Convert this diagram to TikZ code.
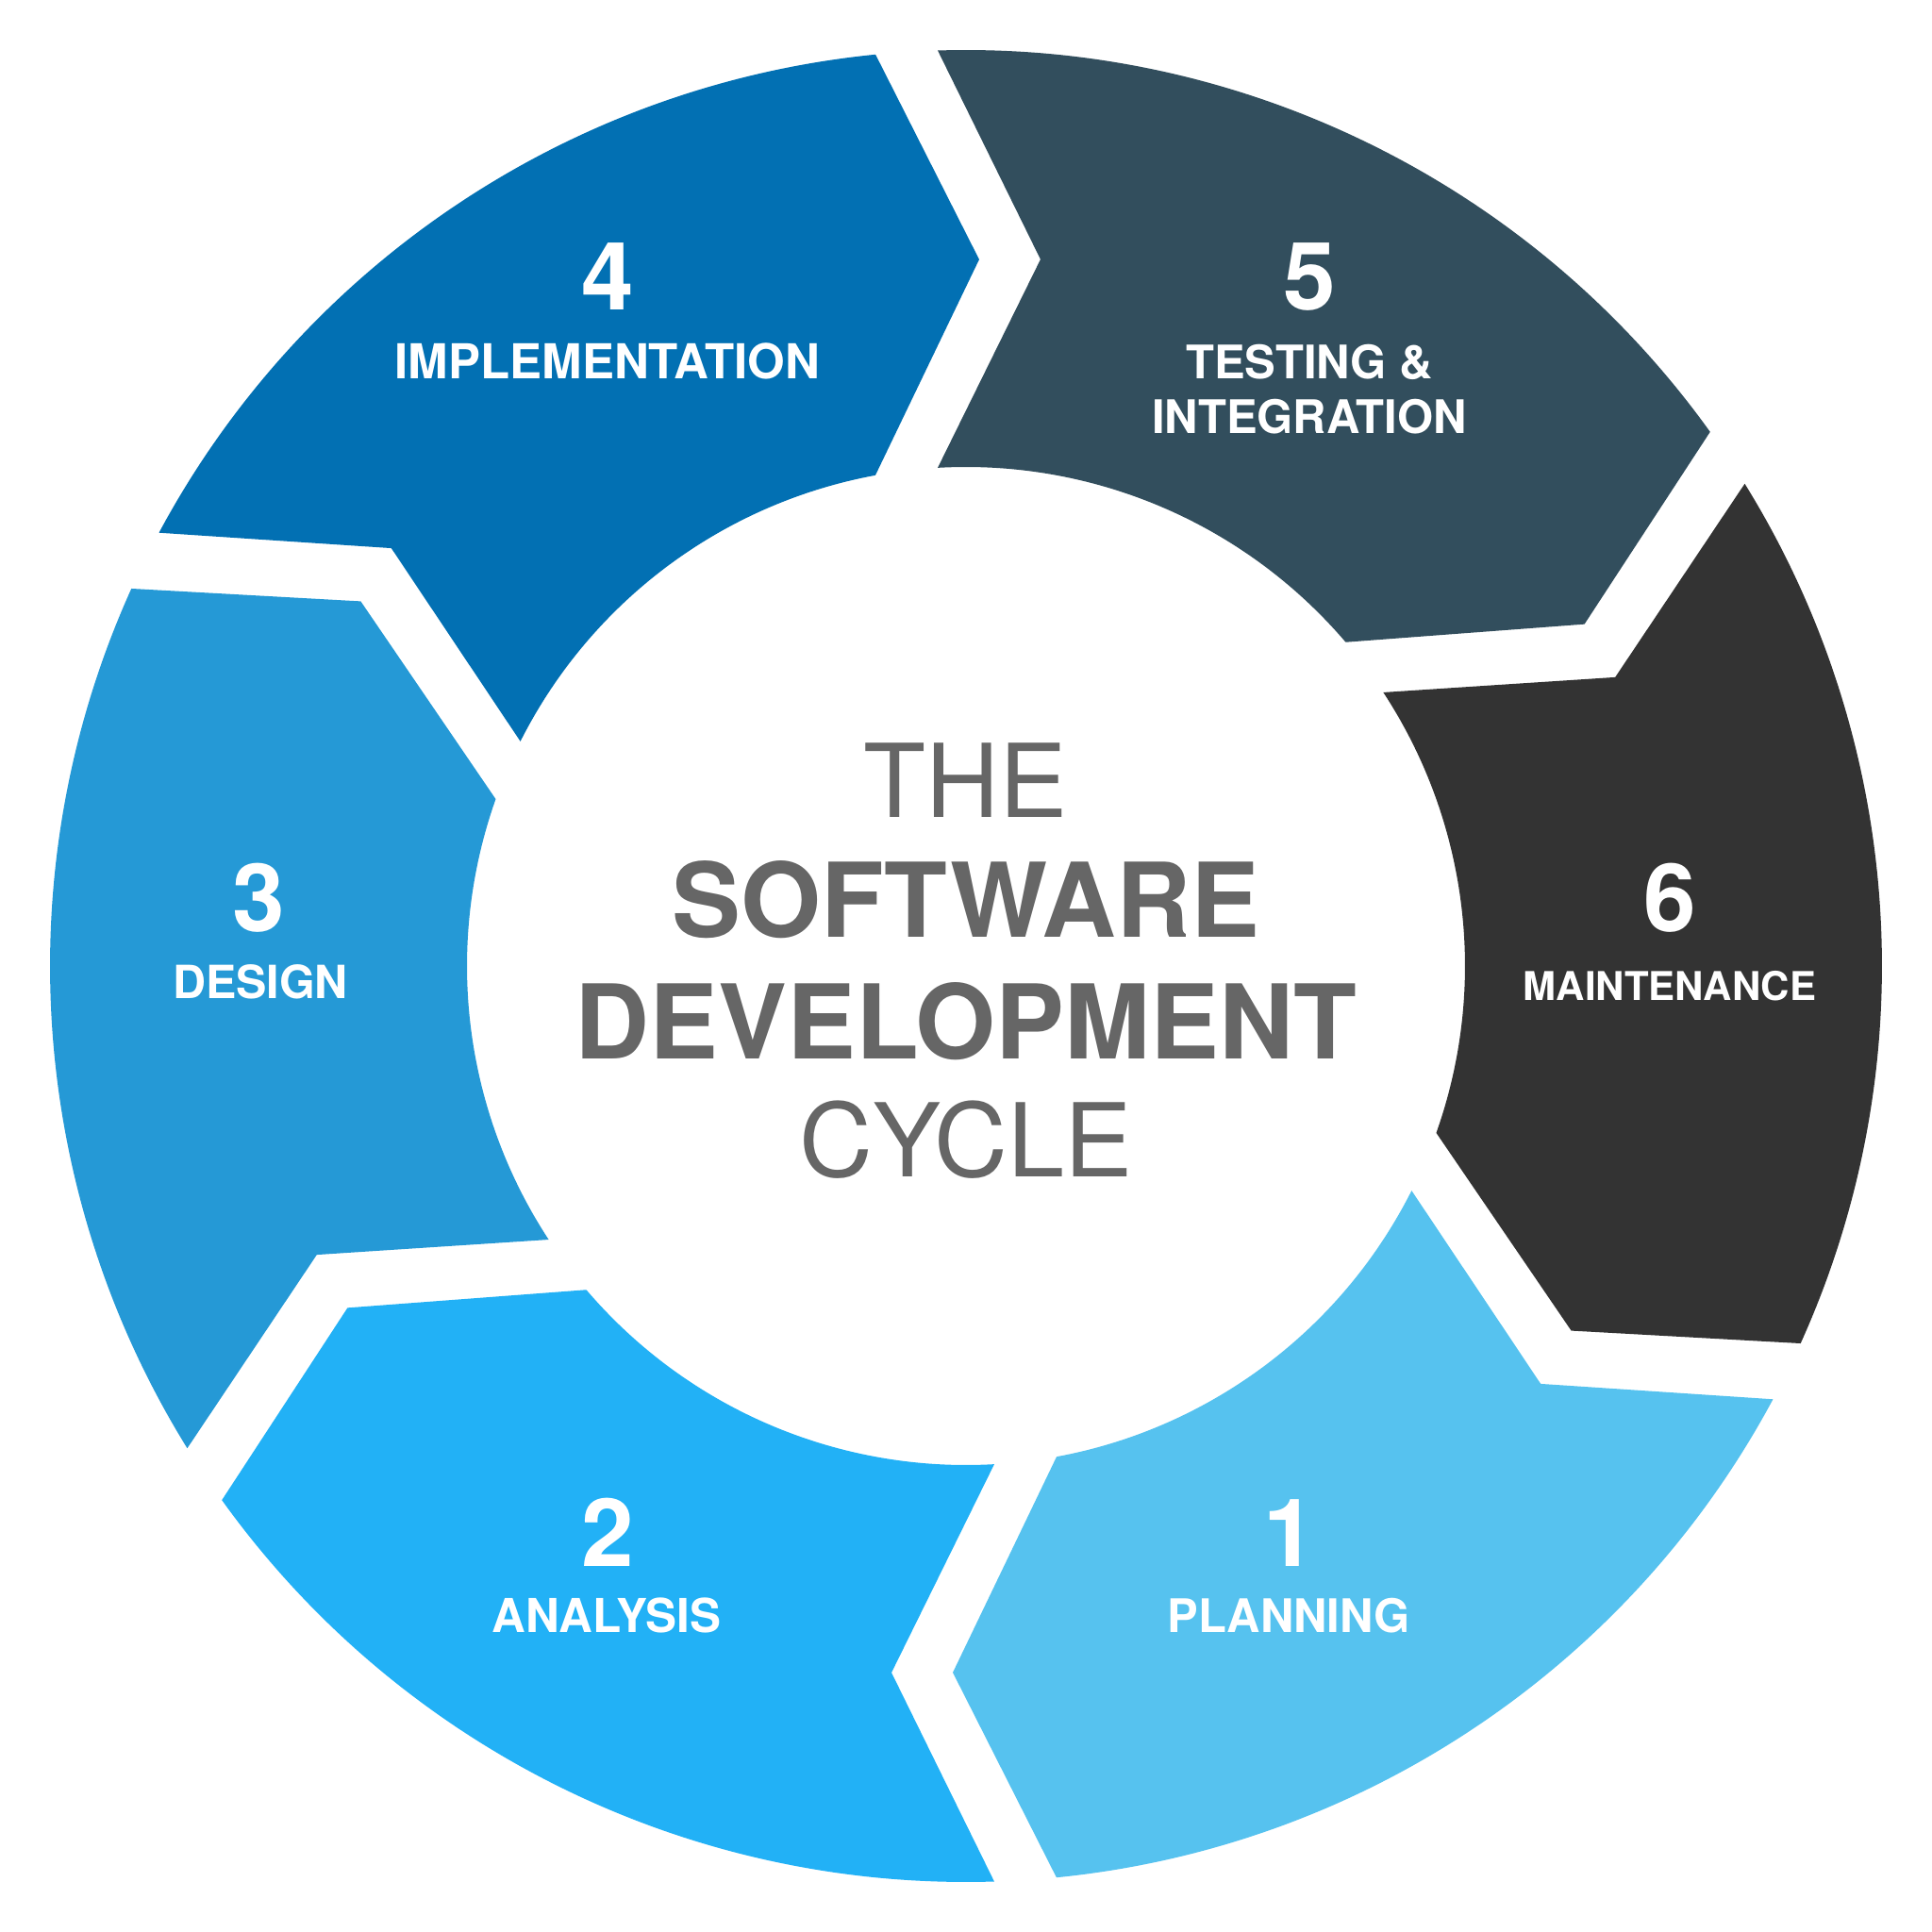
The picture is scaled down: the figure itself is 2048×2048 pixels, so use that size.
\documentclass[tikz,border=0pt]{standalone}
\usepackage{fontspec}
\setmainfont{TeX Gyre Heros}
\definecolor{segA}{HTML}{56C2EF}
\definecolor{segB}{HTML}{22B1F6}
\definecolor{segC}{HTML}{2599D6}
\definecolor{segD}{HTML}{0270B3}
\definecolor{segE}{HTML}{324E5D}
\definecolor{segF}{HTML}{333333}
\definecolor{titlegray}{HTML}{666666}
\tikzset{
  numtext/.style={text=white, inner sep=0pt, anchor=base, font=\bfseries\fontsize{100}{110}\selectfont},
  labtext/.style={text=white, inner sep=0pt, anchor=base, font=\bfseries\fontsize{#1}{#1}\selectfont},
  titlereg/.style={text=titlegray, inner sep=0pt, anchor=base, font=\fontsize{108}{120}\selectfont},
  titlebold/.style={text=titlegray, inner sep=0pt, anchor=base, font=\bfseries\fontsize{109.3}{120}\selectfont}
}
\begin{document}
\begin{tikzpicture}[x=1pt,y=1pt]
\fill[white] (-1024,-1024) rectangle (1024,1024);
\useasboundingbox (-1024,-1024) rectangle (1024,1024);
\foreach \c/\col in {300/segA, 240/segB, 180/segC, 120/segD, 60/segE, 0/segF} {
  \fill[\col] ({\c+31.77}:971) arc[start angle={\c+31.77}, end angle={\c-24.33}, radius=971]
    -- ({\c-31.07}:749.1) -- ({\c-19.54}:529)
    arc[start angle={\c-19.54}, end angle={\c+33.25}, radius=529]
    -- ({\c+23.98}:753.2) -- cycle;
}
% numbers
\node[numtext] (n1) at (343,-636) {1};
\node[numtext] (n2) at (-380,-636) {2};
\node[numtext] (n3) at (-750,36) {3};
\node[numtext] (n4) at (-380,695) {4};
\node[numtext] (n5) at (364,695) {5};
\node[numtext] (n6) at (746,36) {6};
% labels
\node[labtext=49] (l1) at (342,-706) {PLANNING};
\node[labtext=49.5] (l2) at (-381,-706) {ANALYSIS};
\node[labtext=48.5] (l3) at (-748,-34) {DESIGN};
\node[labtext=51] (l4) at (-380,622) {IMPLEMENTATION};
\node[labtext=49] (l5a) at (364,622) {TESTING \&};
\node[labtext=49] (l5b) at (364,564) {INTEGRATION};
\node[labtext=42] (l6) at (746,-36) {MAINTENANCE};
% title
\node[titlereg] (t1) at (0,157) {THE};
\node[titlebold] (t2) at (0,30) {SOFTWARE};
\node[titlebold] (t3) at (0,-98) {DEVELOPMENT};
\node[titlereg] (t4) at (0,-223) {CYCLE};
\end{tikzpicture}
\end{document}
